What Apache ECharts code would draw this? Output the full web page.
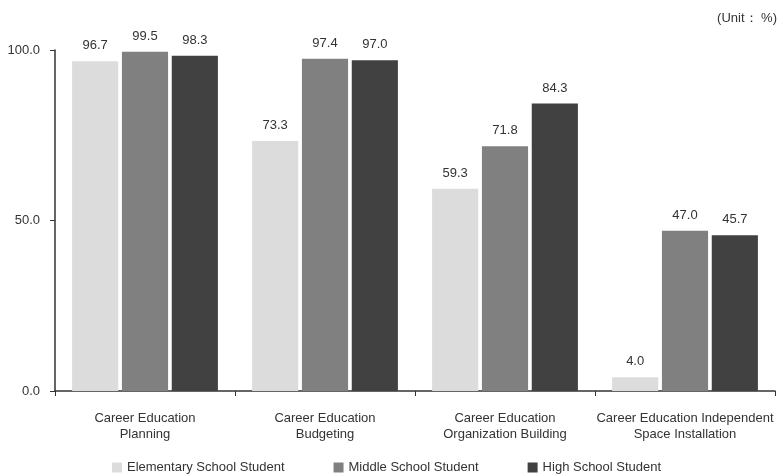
<!DOCTYPE html>
<html>
<head>
<meta charset="utf-8">
<script src="https://cdn.jsdelivr.net/npm/echarts@6/dist/echarts.min.js"></script>
<style>
  html, body { margin: 0; padding: 0; background: #fff; }
  #chart { width: 784px; height: 476px; }
</style>
</head>
<body>
<div id="chart"></div>
<script>
// Career education infrastructure by school level (%)
const categories = [
  'Career Education\nPlanning',
  'Career Education\nBudgeting',
  'Career Education\nOrganization Building',
  'Career Education Independent\nSpace Installation'
];
const elementary = [96.7, 73.3, 59.3, 4.0];
const middle = [99.5, 97.4, 71.8, 47.0];
const high = [98.3, 97.0, 84.3, 45.7];
const seriesNames = ['Elementary School Student', 'Middle School Student', 'High School Student'];
const yTicks = [0, 50, 100];

const FONT = '"Liberation Sans", Arial, sans-serif';
const colors = ['#dcdcdc', '#808080', '#414141'];

const chart = echarts.init(document.getElementById('chart'));

function barSeries(name, data, color) {
  return {
    name: name,
    type: 'bar',
    data: data,
    barGap: '8%',
    barCategoryGap: '19%',
    itemStyle: { color: color },
    label: {
      show: true,
      position: 'top',
      distance: 9,
      color: '#333',
      fontFamily: FONT,
      fontSize: 13,
      formatter: p => p.value.toFixed(1)
    }
  };
}

chart.setOption({
  animation: false,
  color: colors,
  grid: { left: 55, right: 9, top: 50, bottom: 85 },
  title: {
    text: '(Unit： %)',
    right: 2,
    top: 7,
    textStyle: { fontFamily: FONT, fontSize: 13, fontWeight: 'normal', color: '#333' }
  },
  legend: {
    top: 456,
    left: 107,
    itemWidth: 10,
    itemHeight: 10,
    itemGap: 49,
    icon: 'rect',
    data: seriesNames,
    textStyle: { fontFamily: FONT, fontSize: 13, color: '#333' }
  },
  xAxis: {
    type: 'category',
    data: categories,
    axisLine: { lineStyle: { color: '#333', width: 1.5 } },
    axisTick: { show: true, length: 5, lineStyle: { color: '#333' } },
    axisLabel: {
      color: '#333',
      fontFamily: FONT,
      fontSize: 13,
      lineHeight: 16,
      margin: 19,
      interval: 0
    }
  },
  yAxis: {
    type: 'value',
    min: yTicks[0],
    max: yTicks[yTicks.length - 1],
    interval: yTicks[1] - yTicks[0],
    splitLine: { show: false },
    axisLine: { show: true, lineStyle: { color: '#333', width: 1.5 } },
    axisTick: { show: true, length: 5, lineStyle: { color: '#333' } },
    axisLabel: {
      color: '#333',
      fontFamily: FONT,
      fontSize: 13,
      margin: 15,
      formatter: v => v.toFixed(1)
    }
  },
  series: [
    barSeries(seriesNames[0], elementary, colors[0]),
    barSeries(seriesNames[1], middle, colors[1]),
    barSeries(seriesNames[2], high, colors[2])
  ]
});
</script>
</body>
</html>
